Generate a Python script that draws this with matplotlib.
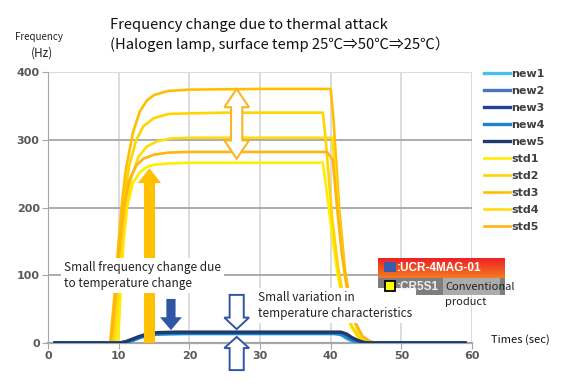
import matplotlib

matplotlib.use("Agg")
import matplotlib.pyplot as plt
import numpy as np
from matplotlib.colors import LinearSegmentedColormap
from matplotlib.patches import FancyArrow, Polygon, Rectangle

# ---- data ----
std1_t = [1, 9.9, 10.3, 10.7, 11.2, 12, 13, 14, 15, 17, 20, 30, 38.9, 39.3, 40.2, 41.0, 42.0, 43.0, 44.0, 45.5, 59]
std1_v = [0, 0, 80, 150, 200, 236, 252, 260, 263, 265, 266, 266, 266, 235, 160, 100, 50, 22, 7, 0, 0]
std2_t = [1, 9.2, 9.8, 10.3, 10.8, 11.5, 12.5, 13.5, 15, 17, 20, 25, 38.9, 39.3, 40.2, 41.0, 42.0, 43.0, 44.0, 45.5, 59]
std2_v = [0, 0, 80, 160, 215, 262, 300, 320, 332, 338, 339, 340, 340, 300, 185, 115, 55, 25, 8, 0, 0]
std3_t = [1, 8.8, 9.4, 10, 10.5, 11, 12, 13, 14, 15, 17, 20, 30, 40, 40.4, 41.2, 42.0, 43.0, 44.0, 45.0, 46.0, 59]
std3_v = [0, 0, 70, 150, 210, 255, 310, 342, 358, 366, 372, 374, 375, 375, 330, 200, 110, 45, 15, 4, 0, 0]
std4_t = [1, 9.5, 10, 10.5, 11, 11.8, 12.8, 14, 15.5, 17.5, 20, 30, 40.2, 40.6, 41.3, 42.0, 43.0, 44.0, 45.0, 46.0, 59]
std4_v = [0, 0, 80, 150, 200, 245, 275, 290, 298, 302, 303, 303, 303, 260, 165, 100, 42, 14, 4, 0, 0]
std5_t = [1, 8.9, 9.6, 10.2, 10.8, 11.5, 12.5, 13.5, 15, 17, 20, 30, 39.5, 40.3, 40.9, 41.6, 42.5, 43.5, 44.5, 45.5, 46.5, 59]
std5_v = [0, 0, 70, 150, 205, 240, 262, 272, 278, 281, 282, 282, 282, 270, 200, 130, 70, 30, 10, 3, 0, 0]

new1_t = [1, 10.4, 11, 12, 13, 14, 15, 16, 18, 20, 30, 40.5, 41.5, 42.2, 43, 44, 45, 59]
new1_v = [0, 0, 1, 4, 8, 11, 12.5, 13, 13.5, 14, 14, 14, 12, 7, 3, 1, 0, 0]
new2_t = [1, 10.3, 11, 12, 13, 14, 15, 16, 18, 20, 30, 41.2, 42, 42.8, 43.5, 44.3, 45.2, 59]
new2_v = [0, 0, 1, 5, 9, 12, 14, 15, 15.5, 15.5, 15.5, 15.5, 13, 8, 4, 1.5, 0, 0]
new3_t = [1, 10.2, 11, 12, 13, 14, 15, 16, 18, 20, 30, 41.3, 42.2, 43, 43.8, 44.5, 45.3, 59]
new3_v = [0, 0, 1.5, 5, 9, 12, 14, 14.5, 15, 15, 15, 15, 12, 7, 3.5, 1, 0, 0]
new4_t = [1, 10.5, 11, 12, 13, 14, 15, 16, 18, 20, 30, 41, 41.8, 42.5, 43.3, 44, 45, 59]
new4_v = [0, 0, 1, 4, 8, 11, 13, 13.5, 14, 14, 14, 14, 11.5, 7, 3, 1, 0, 0]
new5_t = [1, 10.1, 11, 12, 13, 14, 15, 16, 18, 20, 30, 41.5, 42.3, 43, 43.8, 44.6, 45.5, 59]
new5_v = [0, 0, 2, 6, 10, 13, 15, 15.5, 16, 16, 16, 16, 13, 8, 4, 1, 0, 0]

new_series = [("new1", new1_t, new1_v), ("new2", new2_t, new2_v), ("new3", new3_t, new3_v),
              ("new4", new4_t, new4_v), ("new5", new5_t, new5_v)]
std_series = [("std1", std1_t, std1_v), ("std2", std2_t, std2_v), ("std3", std3_t, std3_v),
              ("std4", std4_t, std4_v), ("std5", std5_t, std5_v)]

x_ticks = [0, 10, 20, 30, 40, 50, 60]
y_ticks = [0, 100, 200, 300, 400]

COLORS = {
    "new1": "#45C0EA", "new2": "#4A74C0", "new3": "#23419A", "new4": "#1C83CC", "new5": "#1F3A6E",
    "std1": "#FFEE00", "std2": "#FFD400", "std3": "#FFBF00", "std4": "#FFDC10", "std5": "#FFB412",
}

W, H = 581, 387


def fx(px):
    return px / W


def fy(py):
    return 1 - py / H


fig = plt.figure(figsize=(W / 100, H / 100), dpi=100)
ax = fig.add_axes([fx(48), fy(343), (472 - 48) / W, (343 - 72) / H])
ax.set_xlim(0, 60)
ax.set_ylim(0, 400)

for s in ("top", "right"):
    ax.spines[s].set_visible(False)
ax.spines["left"].set_color("#A6A6A6")
ax.spines["bottom"].set_color("#A6A6A6")
ax.spines["bottom"].set_linewidth(1.6)

ax.set_xticks(x_ticks)
ax.set_yticks(y_ticks)
ax.tick_params(axis="both", length=4, color="#A6A6A6", labelsize=8, labelcolor="#595959", pad=2)
for lab in ax.get_xticklabels() + ax.get_yticklabels():
    lab.set_fontweight("bold")
ax.xaxis.grid(True, color="#D9D9D9", lw=1.3)
ax.yaxis.grid(True, color="#A6A6A6", lw=1.3)
ax.yaxis.get_gridlines()[-1].set_color("#D9D9D9")
ax.set_axisbelow(True)

handles = []
for name, t, v in new_series:
    ln, = ax.plot(t, v, color=COLORS[name], lw=2.4, label=name, zorder=3)
    handles.append(ln)
for name, t, v in std_series:
    ln, = ax.plot(t, v, color=COLORS[name], lw=1.9, label=name, zorder=2)
    handles.append(ln)

leg = ax.legend(handles=handles, loc="upper left", bbox_to_anchor=(fx(484), fy(69)),
                bbox_transform=fig.transFigure, frameon=False,
                prop={"size": 8, "weight": "bold"}, handlelength=2.3, handletextpad=0.15,
                labelspacing=0.63, borderpad=0, borderaxespad=0)
for txt in leg.get_texts():
    txt.set_color("#404040")

# ---- annotations ----
ax.add_patch(FancyArrow(14.36, 0, 0, 258, width=1.56, head_width=3.3, head_length=22,
                        length_includes_head=True, color="#FFC000", lw=0, zorder=4))

# double-headed arrow (white with orange edge)
cx, top, bot, hl, hw, bw = 26.7, 375, 272, 27, 1.75, 0.8
dbl = [(cx, top), (cx + hw, top - hl), (cx + bw, top - hl), (cx + bw, bot + hl), (cx + hw, bot + hl),
       (cx, bot), (cx - hw, bot + hl), (cx - bw, bot + hl), (cx - bw, top - hl), (cx - hw, top - hl)]
ax.add_patch(Polygon(dbl, closed=True, fc="white", ec="#F7B52A", lw=1.5, zorder=5))

ax.add_patch(FancyArrow(17.4, 65, 0, -46, width=1.3, head_width=3.1, head_length=19,
                        length_includes_head=True, color="#2F55A4", lw=0, zorder=5))
ax.add_patch(FancyArrow(26.7, 71, 0, -50.5, width=2.0, head_width=3.5, head_length=17,
                        length_includes_head=True, fc="white", ec="#2F55A4", lw=1.4, zorder=5))
ax.add_patch(FancyArrow(26.7, -40, 0, 49, width=2.0, head_width=3.5, head_length=16.5,
                        length_includes_head=True, fc="white", ec="#2F55A4", lw=1.4, zorder=5,
                        clip_on=False))

jp = ["Noto Sans CJK JP", "DejaVu Sans"]
fig.text(fx(64), fy(261), "Small frequency change due\nto temperature change", ha="left", va="top",
         family=jp, fontsize=8.5, color="#222222", linespacing=1.3,
         bbox=dict(fc="white", ec="none", pad=2.5), zorder=6)
fig.text(fx(258), fy(291), "Small variation in\ntemperature characteristics", ha="left", va="top",
         family=jp, fontsize=8.5, color="#222222", linespacing=1.3,
         bbox=dict(fc="white", ec="none", pad=2.5), zorder=6)

fig.text(fx(110), fy(25), "Frequency change due to thermal attack", family=jp, fontsize=10.6,
         ha="left", va="center", color="#111111")
fig.text(fx(110), fy(44), "(Halogen lamp, surface temp 25℃⇒50℃⇒25℃）", family=jp, fontsize=10.6,
         ha="left", va="center", color="#111111")
fig.text(fx(15), fy(37), "Frequency", family=jp, fontsize=7, ha="left", va="center", color="#222222")
fig.text(fx(31), fy(53), "(Hz)", family=jp, fontsize=8.5, ha="left", va="center", color="#222222")
fig.text(fx(491), fy(340), "Times (sec)", family=jp, fontsize=8, ha="left", va="center", color="#111111")

# product key boxes
gax = fig.add_axes([fx(378), fy(278), 127 / W, 20 / H])
grad = np.linspace(0, 1, 32).reshape(-1, 1)
cmap = LinearSegmentedColormap.from_list("ro", ["#EE1C25", "#F47A22"])
gax.imshow(grad, aspect="auto", cmap=cmap, extent=(0, 1, 0, 1))
gax.axis("off")

fig.patches.append(Rectangle((fx(378), fy(295)), 127 / W, 17 / H, transform=fig.transFigure,
                             fc="#7E7E7E", ec="none", zorder=1))
fig.patches.append(Rectangle((fx(443), fy(295)), 57 / W, 17 / H, transform=fig.transFigure,
                             fc="#ABABAB", ec="none", zorder=1))
fig.patches.append(Rectangle((fx(384), fy(272)), 12 / W, 10 / H, transform=fig.transFigure,
                             fc="#3A5BA9", ec="none", zorder=8))
fig.patches.append(Rectangle((fx(385), fy(291)), 10 / W, 10 / H, transform=fig.transFigure,
                             fc="#FFFF00", ec="black", lw=1.3, zorder=8))
fig.text(fx(397), fy(268), ":UCR-4MAG-01", fontsize=8.5, weight="bold", color="white",
         family="Liberation Sans", ha="left", va="center", zorder=9)
fig.text(fx(397), fy(286.5), ":CR5S1", fontsize=8.5, weight="bold", color="#EEEEEE",
         family="Liberation Sans", ha="left", va="center", zorder=9)
fig.text(fx(445), fy(286.5), "Conventional", fontsize=8, color="#222222", family=jp,
         ha="left", va="center", zorder=9)
fig.text(fx(445), fy(302), "product", fontsize=8, color="#222222", family=jp,
         ha="left", va="center", zorder=9)

fig.savefig("out.png", dpi=100)
